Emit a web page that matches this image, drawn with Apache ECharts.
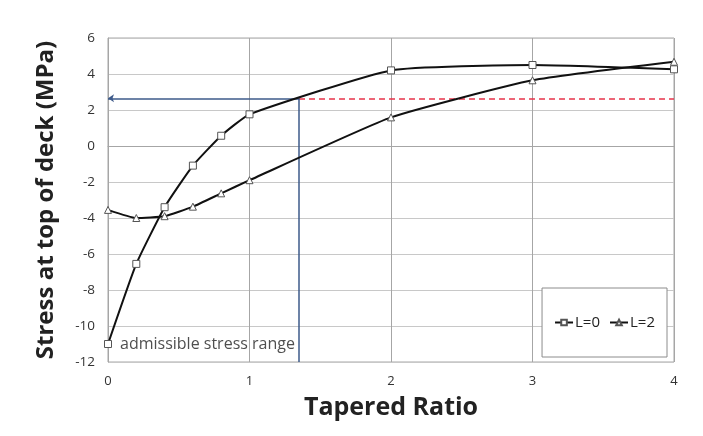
<!DOCTYPE html>
<html><head><meta charset="utf-8">
<script src="https://cdn.jsdelivr.net/npm/echarts@6/dist/echarts.min.js"></script>
<style>html,body{margin:0;padding:0;background:#fff}#c{width:703px;height:436px}</style>
</head><body><div id="c"></div>
<script>
const xValues = [0, 0.2, 0.4, 0.6, 0.8, 1, 2, 3, 4];
const seriesL0 = [-11.0, -6.55, -3.4, -1.09, 0.57, 1.76, 4.2, 4.5, 4.26];
const seriesL2 = [-3.55, -4.0, -3.9, -3.37, -2.63, -1.9, 1.59, 3.65, 4.68];
const admissibleStress = 2.65;
const admissibleRatio = 1.35;
const xMax = 4;
const yMin = -12;
const seriesNames = ['L=0', 'L=2'];
const annotationText = 'admissible stress range';

const font = '"Open Sans", "Noto Sans", sans-serif';
const chart = echarts.init(document.getElementById('c'));
chart.setOption({
  animation: false,
  backgroundColor: '#fff',
  grid: { left: 108, right: 29, top: 38, bottom: 74, show: true, borderColor: '#a6a6a6', borderWidth: 1 },
  xAxis: {
    type: 'value', min: 0, max: 4, interval: 1,
    name: 'Tapered Ratio', nameLocation: 'middle', nameGap: 33,
    nameTextStyle: { fontFamily: font, fontWeight: 'bold', fontSize: 25, color: '#222' },
    axisLine: { show: true, lineStyle: { color: '#a6a6a6' } },
    axisTick: { show: false },
    axisLabel: { fontFamily: font, fontSize: 13, color: '#333', margin: 13 },
    splitLine: { show: true, lineStyle: { color: '#a6a6a6', width: 1 } }
  },
  yAxis: {
    type: 'value', min: -12, max: 6, interval: 2,
    name: 'Stress at top of deck (MPa)', nameLocation: 'middle', nameGap: 50,
    nameTextStyle: { fontFamily: font, fontWeight: 'bold', fontSize: 24, color: '#222' },
    axisLine: { show: true, lineStyle: { color: '#a6a6a6' } },
    axisTick: { show: false },
    axisLabel: { fontFamily: font, fontSize: 13.5, color: '#333', margin: 13 },
    splitLine: { show: true, lineStyle: { color: '#c8c8c8', width: 1 } }
  },
  legend: {
    data: seriesNames,
    right: 36, top: 288,
    orient: 'horizontal',
    backgroundColor: '#fff',
    borderColor: '#8c8c8c', borderWidth: 1,
    padding: [27, 12, 27, 12],
    itemGap: 9, itemWidth: 18, itemHeight: 7,
    textStyle: { fontFamily: font, fontSize: 15, color: '#222', padding: [0, 0, 0, -3] }
  },
  series: [
    {
      name: seriesNames[0], type: 'line',
      data: xValues.map((x, i) => [x, seriesL0[i]]),
      symbol: 'rect', symbolSize: 7,
      smooth: 0.15,
      lineStyle: { color: '#111', width: 2 },
      itemStyle: { color: '#fff', borderColor: '#555', borderWidth: 1 },
      z: 5,
      markLine: {
        silent: true, animation: false,
        symbol: ['none', 'arrow'], symbolSize: [6, 6],
        label: { show: false },
        data: [
          [{ coord: [admissibleRatio, admissibleStress] }, { coord: [0, admissibleStress] }]
        ],
        lineStyle: { color: '#3d5a8a', width: 1.5, type: 'solid' }
      }
    },
    {
      name: seriesNames[1], type: 'line',
      data: xValues.map((x, i) => [x, seriesL2[i]]),
      symbol: 'triangle', symbolSize: 7,
      smooth: 0.15,
      lineStyle: { color: '#111', width: 2 },
      itemStyle: { color: '#fff', borderColor: '#555', borderWidth: 1 },
      z: 5,
      markLine: {
        silent: true, animation: false,
        symbol: ['none', 'none'],
        label: { show: false },
        data: [
          [{ coord: [admissibleRatio, admissibleStress] }, { coord: [xMax, admissibleStress], lineStyle: { color: '#e8334a', width: 1.5, type: [6, 4] } }],
          [{ coord: [admissibleRatio, admissibleStress] }, { coord: [admissibleRatio, yMin] }]
        ],
        lineStyle: { color: '#3d5a8a', width: 1.5, type: 'solid' }
      }
    },
    {
      name: 'annotation', type: 'scatter',
      data: [[0, -11]],
      symbolSize: 0,
      silent: true,
      label: { show: true, position: 'right', distance: 12, formatter: annotationText, fontFamily: font, fontSize: 16, color: '#222' },
      z: 6
    }
  ]
});
</script></body></html>
